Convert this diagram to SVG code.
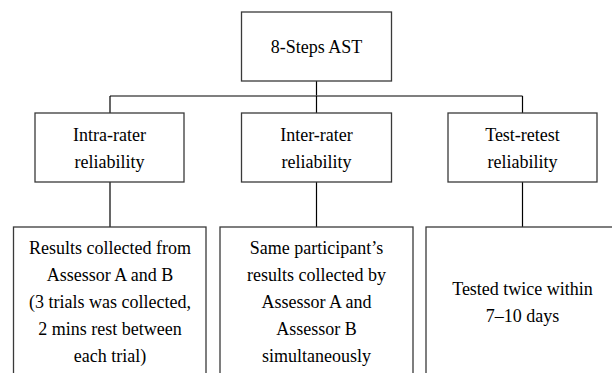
<svg xmlns="http://www.w3.org/2000/svg" width="612" height="373" viewBox="0 0 612 373">
<style>
.box{fill:#fff;stroke:#3a3a3a;stroke-width:1.3}
.t{font-family:'Liberation Serif',Tinos,'Times New Roman',Times,'DejaVu Serif',serif;font-size:18px;fill:#000;text-anchor:middle}
.c{stroke:#000;stroke-width:1.2;fill:none}
.h{stroke:#555;stroke-width:1.6;fill:none}
</style>
<rect width="612" height="373" fill="#fff"/>
<g id="connectors">
<line class="c" x1="316.5" y1="81" x2="316.5" y2="96"/>
<line class="h" x1="110" y1="96" x2="522.5" y2="96"/>
<line class="c" x1="110" y1="96" x2="110" y2="113"/>
<line class="c" x1="316.5" y1="96" x2="316.5" y2="113"/>
<line class="c" x1="522.5" y1="96" x2="522.5" y2="113"/>
<line class="c" x1="110" y1="182" x2="110" y2="227"/>
<line class="c" x1="316.5" y1="182" x2="316.5" y2="227"/>
<line class="c" x1="522.5" y1="182" x2="522.5" y2="227"/>
</g>
<g id="root">
<rect class="box" x="241.5" y="12" width="150" height="69"/>
<text class="t" x="316.5" y="53" font-family="Liberation Serif, serif">8-Steps AST</text>
</g>
<g id="intra">
<rect class="box" x="35" y="113" width="149" height="69"/>
<text class="t" x="109.5" y="141">Intra-rater</text>
<text class="t" x="109.5" y="168">reliability</text>
</g>
<g id="inter">
<rect class="box" x="241.5" y="113" width="150" height="69"/>
<text class="t" x="316.5" y="141">Inter-rater</text>
<text class="t" x="316.5" y="168">reliability</text>
</g>
<g id="test">
<rect class="box" x="448" y="113" width="149" height="69"/>
<text class="t" x="522.5" y="141">Test-retest</text>
<text class="t" x="522.5" y="168">reliability</text>
</g>
<g id="intra-detail">
<rect class="box" x="13.5" y="227" width="192.5" height="160"/>
<text class="t" x="110" y="254">Results collected from</text>
<text class="t" x="110" y="281">Assessor A and B</text>
<text class="t" x="110" y="308">(3 trials was collected,</text>
<text class="t" x="110" y="335">2 mins rest between</text>
<text class="t" x="110" y="362">each trial)</text>
</g>
<g id="inter-detail">
<rect class="box" x="220" y="227" width="193" height="160"/>
<text class="t" x="316.5" y="254">Same participant’s</text>
<text class="t" x="316.5" y="281">results collected by</text>
<text class="t" x="316.5" y="308">Assessor A and</text>
<text class="t" x="316.5" y="335">Assessor B</text>
<text class="t" x="316.5" y="362">simultaneously</text>
</g>
<g id="test-detail">
<rect class="box" x="426" y="227" width="193" height="160"/>
<text class="t" x="522.5" y="295">Tested twice within</text>
<text class="t" x="522.5" y="322">7–10 days</text>
</g>
</svg>
